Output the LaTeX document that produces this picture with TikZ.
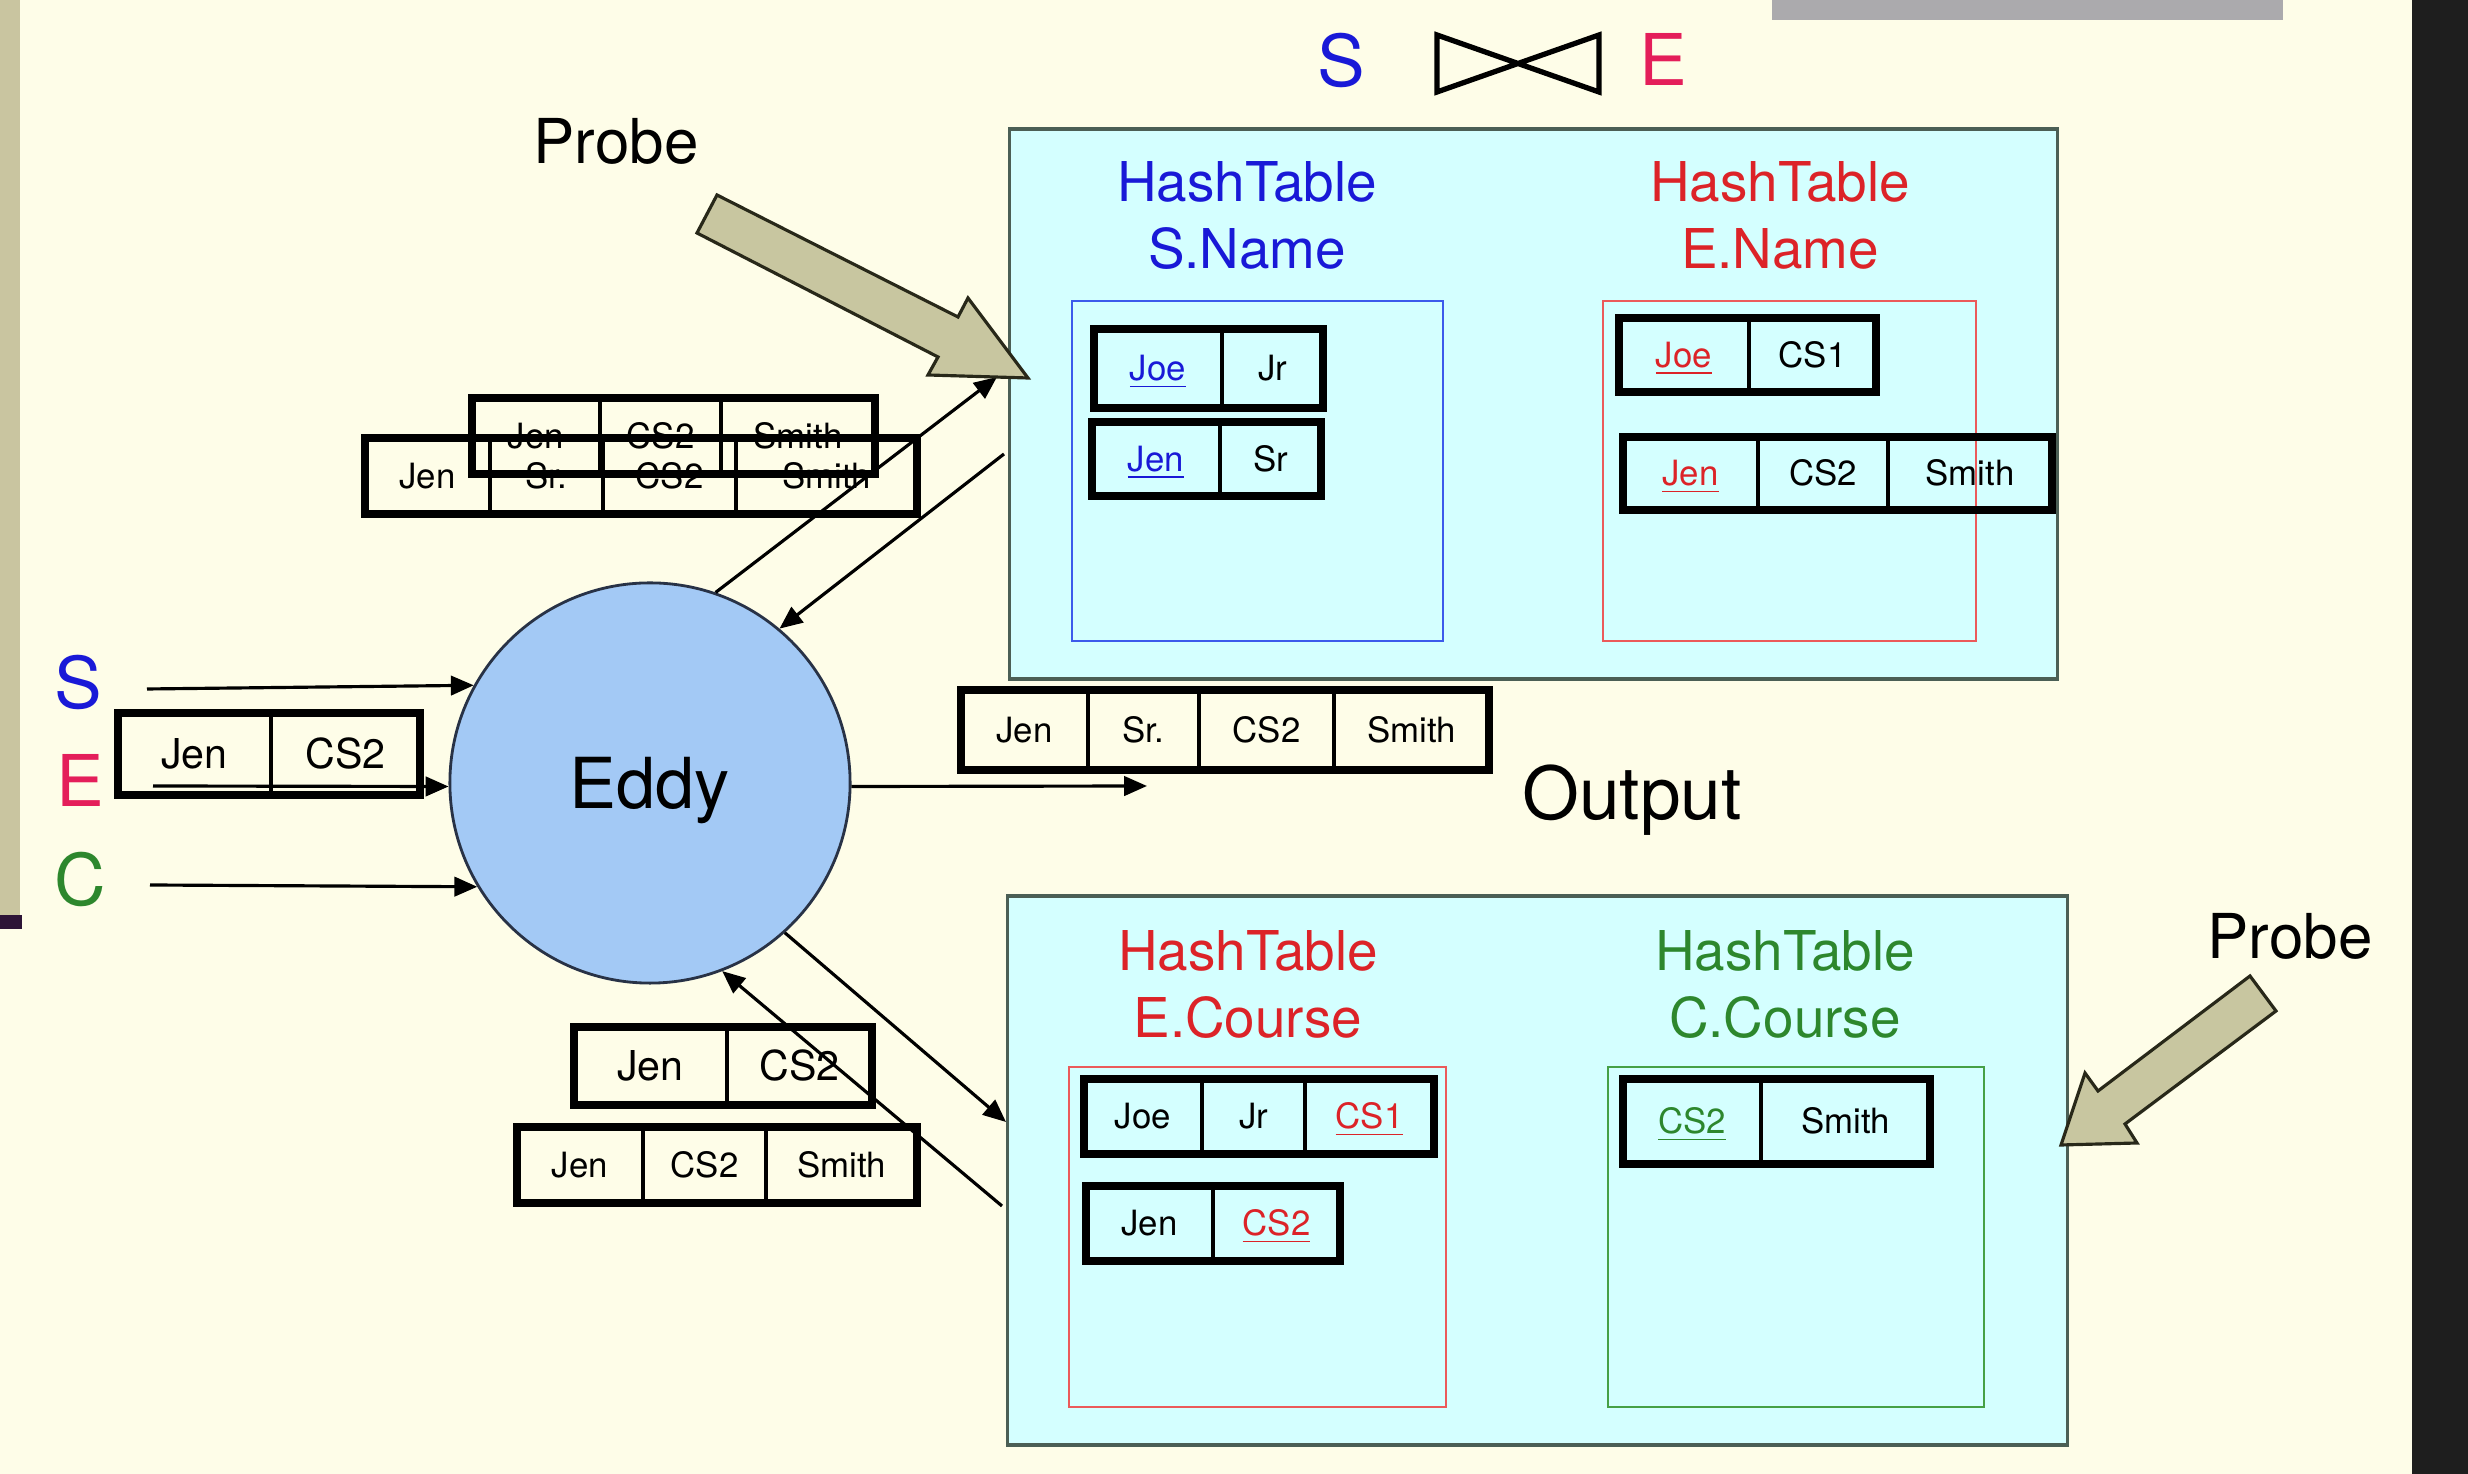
\documentclass[tikz,border=0pt]{standalone}
\usepackage{fontspec}
\setmainfont{TeX Gyre Heros}
\usetikzlibrary{arrows.meta,fit,calc}

\definecolor{bgcream}{RGB}{254,253,232}
\definecolor{stripe}{RGB}{201,197,160}
\definecolor{purplemark}{RGB}{45,20,55}
\definecolor{darkbar}{RGB}{30,30,30}
\definecolor{graybar}{RGB}{171,170,173}
\definecolor{khaki}{RGB}{200,198,160}
\definecolor{khakiline}{RGB}{40,40,25}
\definecolor{cyanbg}{RGB}{212,255,255}
\definecolor{boxline}{RGB}{75,95,85}
\definecolor{eddyblue}{RGB}{163,201,245}
\definecolor{eddyline}{RGB}{40,50,70}
\definecolor{sblue}{RGB}{25,25,215}
\definecolor{tred}{RGB}{220,35,40}
\definecolor{epink}{RGB}{228,30,90}
\definecolor{cgreen}{RGB}{45,135,45}
\definecolor{blueline}{RGB}{60,90,235}
\definecolor{redline}{RGB}{235,90,90}
\definecolor{greenline}{RGB}{70,160,70}

\newcommand{\fntTup}{\fontsize{9.9pt}{12pt}\selectfont}
\newcommand{\fntTupL}{\fontsize{11.7pt}{14pt}\selectfont}
\newcommand{\fntHT}{\fontsize{15.6pt}{19.06pt}\selectfont}
\newcommand{\fntProbe}{\fontsize{17.6pt}{21pt}\selectfont}
\newcommand{\fntBig}{\fontsize{20.3pt}{24pt}\selectfont}
\newcommand{\fntEddy}{\fontsize{20pt}{24pt}\selectfont}
\newcommand{\fntOut}{\fontsize{20.8pt}{25pt}\selectfont}
\newcommand{\ulc}[2]{\textcolor{#1}{\underline{#2}}}

\newcommand{\tupbox}[5]{%
  \foreach \xa/\xb/\txt [count=\ci] in {#5}{%
    \node[cell,#2,minimum width={(\xb-\xa)*0.01cm},minimum height={(#4-#3)*0.01cm}]
      (#1-\ci) at ({(\xa+\xb)/2},{(#3+#4)/2}) {\txt};
    \xdef\lastcell{\ci}%
  }%
  \node[tupframe,fit=(#1-1)(#1-\lastcell)] (#1) {};%
}

\begin{document}
\begin{tikzpicture}[x=0.01cm,y=-0.01cm,
  cell/.style={draw=black,line width=0.9pt,rectangle,inner sep=0pt,outer sep=0pt,text depth=0pt},
  tupS/.style={font=\fntTup,text height=7.1pt},
  tupL/.style={font=\fntTupL,text height=8.4pt},
  tupframe/.style={draw=black,line width=2pt,rectangle,inner sep=0pt,outer sep=0pt},
  flow/.style={draw=black,line width=0.9pt,-{Triangle[length=6.5pt,width=5.5pt]}},
  probe/.style={fill=khaki,draw=khakiline,line width=0.9pt,line join=miter},
  bigbox/.style={rectangle,fill=cyanbg,draw=boxline,line width=1pt,inner sep=0pt},
  innerbox/.style={rectangle,draw=#1,line width=0.7pt,inner sep=0pt},
  ht/.style={font=\fntHT,align=center,anchor=north,inner sep=0pt},
  lbl/.style={anchor=base,inner sep=0pt}]

% background and slide decorations
\fill[bgcream] (0,0) rectangle (2468,1474);
\useasboundingbox (0,0) rectangle (2468,1474);
\fill[stripe] (0,0) rectangle (20,915);
\fill[purplemark] (0,915) rectangle (22,929);
\fill[darkbar] (2412,0) rectangle (2468,1474);
\fill[graybar] (1772,0) rectangle (2283,20);

% title S join E
\node[lbl,font=\fntBig,text=sblue] (titleS) at (1341,87) {S};
\draw[line width=1.5pt,line join=miter] (1437,35) -- (1437,92) -- (1599,35) -- (1599,92) -- cycle;
\node[lbl,font=\fntBig,text=epink] (titleE) at (1663,86) {E};

% top hash tables
\node[bigbox,minimum width=10.47cm,minimum height=5.5cm] (topbox) at (1533.5,404) {};
\node[innerbox=blueline,minimum width=3.71cm,minimum height=3.4cm] (snamebox) at (1257.5,471) {};
\node[innerbox=redline,minimum width=3.73cm,minimum height=3.4cm] (enamebox) at (1789.5,471) {};
\node[ht,text=sblue] (snametitle) at (1247,161) {HashTable\\S.Name};
\node[ht,text=tred] (enametitle) at (1780,161) {HashTable\\E.Name};
\tupbox{t1}{tupS}{329}{408}{1094/1222/{\ulc{sblue}{Joe}},1222/1323/Jr}
\tupbox{t2}{tupS}{422}{496}{1092/1220/{\ulc{sblue}{Jen}},1220/1321/Sr}
\tupbox{t3}{tupS}{318}{392}{1619/1749/{\ulc{tred}{Joe}},1749/1876/CS1}
\tupbox{t4}{tupS}{437}{510}{1623/1758/{\ulc{tred}{Jen}},1758/1888/CS2,1888/2052/Smith}

% bottom hash tables
\node[bigbox,minimum width=10.59cm,minimum height=5.49cm] (botbox) at (1537.5,1170.5) {};
\node[innerbox=redline,minimum width=3.77cm,minimum height=3.4cm] (ecoursebox) at (1257.5,1237) {};
\node[innerbox=greenline,minimum width=3.76cm,minimum height=3.4cm] (ccoursebox) at (1796,1237) {};
\node[ht,text=tred] (ecoursetitle) at (1248,930) {HashTable\\E.Course};
\node[ht,text=cgreen] (ccoursetitle) at (1785,930) {HashTable\\C.Course};
\tupbox{t11}{tupS}{1079}{1154}{1084/1202/Joe,1202/1305/Jr,1305/1434/{\ulc{tred}{CS1}}}
\tupbox{t12}{tupS}{1186}{1261}{1086/1213/Jen,1213/1340/{\ulc{tred}{CS2}}}
\tupbox{t13}{tupS}{1079}{1164}{1623/1761/{\ulc{cgreen}{CS2}},1761/1930/Smith}

% tuples in flight
\tupbox{t5}{tupS}{398}{474}{472/600/Jen,600/721/CS2,721/875/Smith}
\tupbox{t6}{tupS}{438}{514}{365/490/Jen,490/603/Sr.,603/736/CS2,736/917/Smith}
\tupbox{t7}{tupL}{713}{795}{118/271/Jen,271/420/CS2}
\tupbox{t8}{tupS}{690}{770}{961/1088/Jen,1088/1199/Sr.,1199/1334/CS2,1334/1489/Smith}
\tupbox{t9}{tupL}{1027}{1105}{574/727/Jen,727/872/CS2}
\tupbox{t10}{tupS}{1127}{1203}{517/643/Jen,643/766/CS2,766/917/Smith}

% labels
\node[lbl,font=\fntProbe] (probe1) at (616,164) {Probe};
\node[lbl,font=\fntProbe] (probe2) at (2290,959) {Probe};
\node[lbl,font=\fntOut] (outlbl) at (1632,820) {Output};
\node[lbl,font=\fntBig,text=sblue] (lblS) at (78,709) {S};
\node[lbl,font=\fntBig,text=epink] (lblE) at (80,807) {E};
\node[lbl,font=\fntBig,text=cgreen] (lblC) at (80,906) {C};

% eddy
\node[circle,minimum size=4cm,inner sep=0pt,fill=eddyblue,draw=eddyline,line width=0.8pt,
      font=\fntEddy,text height=14.4pt,text depth=0pt] (eddy) at (650,783) {Eddy};

% connector ends
\coordinate (sIn) at (147,689);
\coordinate (eIn) at (153,786);
\coordinate (cIn) at (150,885);
\coordinate (outEnd) at (1147,786);
\coordinate (topIn) at (997,377);
\coordinate (topOut) at (1004,454);
\coordinate (botIn) at (1006,1122);
\coordinate (botOut) at (1002,1206);

\draw[flow] (sIn) -- (eddy.151);
\draw[flow] (eIn) -- (eddy.181);
\draw[flow] (cIn) -- (eddy.211);
\draw[flow] (eddy.-1) -- (outEnd);
\draw[flow] (eddy.71) -- (topIn);
\draw[flow] (topOut) -- (eddy.50);
\draw[flow] (eddy.-48) -- (botIn);
\draw[flow] (botOut) -- (eddy.-69);

% probe block arrows
\draw[probe] (717,195) -- (958,317) -- (968,298) -- (1028,378) -- (928,375) -- (938,357) -- (697,233) -- cycle;
\draw[probe] (2250,976) -- (2276,1011) -- (2125,1124) -- (2137,1143) -- (2061,1145) -- (2085,1073) -- (2098,1091) -- cycle;

\end{tikzpicture}
\end{document}
